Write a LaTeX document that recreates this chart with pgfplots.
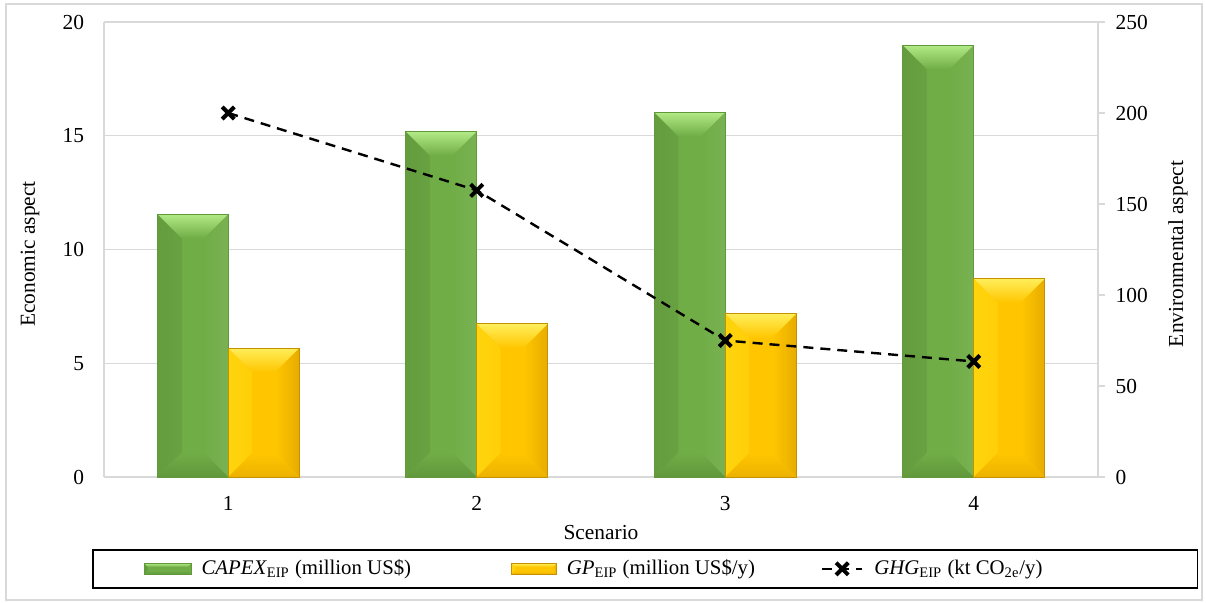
\documentclass[border=0pt]{standalone}
\usepackage{pgfplots}
\pgfplotsset{compat=1.18}
\usepackage{fontspec}
\setmainfont{Liberation Serif}

\definecolor{gridgray}{RGB}{217,217,217}
\definecolor{gBody}{RGB}{112,173,71}
\definecolor{gDark}{RGB}{90,142,55}
\definecolor{gLight}{RGB}{178,234,134}
\definecolor{gEdge}{RGB}{98,152,60}
\definecolor{yBody}{RGB}{255,198,0}
\definecolor{yLeft}{RGB}{255,212,12}
\definecolor{yLight}{RGB}{255,238,90}
\definecolor{yDark}{RGB}{232,172,0}
\definecolor{yEdge}{RGB}{196,146,0}

% bevelled face of a bar: size, body, top, left, right, bottom
\tikzset{
  facet/.style={draw=none, path picture={}},
  bevel/.style n args={6}{
    path picture={
      \path[facet, left color=#4, right color=#2]
        (path picture bounding box.north west)
        -- ([xshift=#1,yshift=-#1]path picture bounding box.north west)
        -- ([xshift=#1,yshift=#1]path picture bounding box.south west)
        -- (path picture bounding box.south west) -- cycle;
      \path[facet, left color=#2, right color=#5]
        (path picture bounding box.north east)
        -- ([xshift=-#1,yshift=-#1]path picture bounding box.north east)
        -- ([xshift=-#1,yshift=#1]path picture bounding box.south east)
        -- (path picture bounding box.south east) -- cycle;
      \path[facet, top color=#2, bottom color=#6]
        (path picture bounding box.south west)
        -- ([xshift=#1,yshift=#1]path picture bounding box.south west)
        -- ([xshift=-#1,yshift=#1]path picture bounding box.south east)
        -- (path picture bounding box.south east) -- cycle;
      \path[facet, top color=#3, bottom color=#2]
        (path picture bounding box.north west)
        -- (path picture bounding box.north east)
        -- ([xshift=-#1,yshift=-#1]path picture bounding box.north east)
        -- ([xshift=#1,yshift=-#1]path picture bounding box.north west) -- cycle;
    }
  },
  capexbar/.style={draw=gEdge, line width=0.4pt, fill=gBody},
  gpbar/.style={draw=yEdge, line width=0.4pt, fill=yBody},
}
% bar series: one plot per bar so every bar gets its own bevel
\pgfplotsset{
  capex/.style={ybar, bar width=0.2855, bar shift=-0.14275, capexbar,
    bevel={12pt}{gBody}{gLight}{gDark!55!gBody}{gBody!94!white}{gDark!70!gBody}},
  gp/.style={ybar, bar width=0.2855, bar shift=0.14275, gpbar,
    bevel={12pt}{yBody}{yLight}{yLeft}{yDark}{yDark!80!yBody}},
  capexlegend/.style={legend image code/.code={%
    \draw[##1] (0pt,-2.75pt) rectangle (23.5pt,2.75pt);}},
  gplegend/.style={legend image code/.code={%
    \draw[##1] (0pt,-2.75pt) rectangle (22.5pt,2.75pt);}},
  ghglegend/.style={legend image code/.code={%
    \draw[##1, mark repeat=2, mark phase=2]
      plot coordinates {(0pt,0pt) (10pt,0pt) (20pt,0pt)};}},
}

\begin{document}
\begin{tikzpicture}[font=\fontsize{10.7}{12.8}\selectfont]
\useasboundingbox (-52pt,-62.5pt) rectangle (551pt,238.5pt);

% economic aspect: bars on the left axis
\begin{axis}[
  at={(0,0)}, anchor=south west,
  scale only axis, width=497pt, height=227.5pt,
  xmin=0.5, xmax=4.5, ymin=0, ymax=20,
  xtick={1,2,3,4}, ytick={0,5,10,15,20},
  axis x line*=bottom, axis y line*=left,
  axis line style={-, gridgray, line width=0.7pt},
  major tick length=0pt,
  ymajorgrids, grid style={gridgray, line width=0.7pt},
  /pgf/number format/assume math mode=true,
  xticklabel style={yshift=-6pt},
  yticklabel style={xshift=-6.4pt},
  xlabel={Scenario}, ylabel={Economic aspect},
  xlabel style={at={(axis description cs:0.5,-0.123)}, anchor=center},
  ylabel style={at={(axis description cs:-0.0744,0.49)}, anchor=center},
]
% CAPEX (million US$)
\addplot[capex] coordinates {(1,11.56)};
\addplot[capex] coordinates {(2,15.19)};
\addplot[capex] coordinates {(3,16.04)};
\addplot[capex] coordinates {(4,18.98)};
% GP (million US$/y)
\addplot[gp] coordinates {(1,5.67)};
\addplot[gp] coordinates {(2,6.73)};
\addplot[gp] coordinates {(3,7.18)};
\addplot[gp] coordinates {(4,8.72)};
\end{axis}

% environmental aspect: GHG line on the right axis, with the legend
\begin{axis}[
  at={(0,0)}, anchor=south west,
  scale only axis, width=497pt, height=227.5pt,
  xmin=0.5, xmax=4.5, ymin=0, ymax=250,
  ytick={0,50,100,150,200,250},
  axis x line=none, axis y line*=right,
  axis line style={-, gridgray, line width=0.7pt},
  tick align=outside, major tick length=3.5pt,
  tick style={gridgray, line width=0.7pt},
  /pgf/number format/assume math mode=true,
  yticklabel style={xshift=1.8pt},
  ylabel={Environmental aspect},
  ylabel style={at={(axis description cs:1.0805,0.49)}, anchor=center},
  legend columns=3,
  legend style={
    at={(-0.01207,-0.15824)}, anchor=north west,
    draw=black, line width=0.8pt, fill=white,
    inner xsep=25.5pt, inner ysep=5pt,
    nodes={inner sep=0pt, font=\fontsize{10.4}{12}\selectfont},
    column sep=5pt,
    /tikz/column 2/.style={column sep=50pt},
    /tikz/column 4/.style={column sep=33pt},
    /tikz/column 5/.style={column sep=5.5pt},
  },
]
\addlegendimage{capexbar, line width=0.4pt, capexlegend,
  bevel={1.8pt}{gBody}{gLight}{gDark!55!gBody}{gBody}{gDark!70!gBody}}
\addlegendentry{\textit{CAPEX}\textsubscript{EIP} (million US\$)}
\addlegendimage{gpbar, line width=0.4pt, gplegend,
  bevel={1.8pt}{yBody}{yLight}{yLeft}{yDark}{yDark!80!yBody}}
\addlegendentry{\textit{GP}\textsubscript{EIP} (million US\$/y)}
\addplot[black, line width=1.2pt, dash pattern=on 5pt off 3.5pt,
  mark=x, mark size=4.3pt, mark options={solid, line width=2pt}, ghglegend]
  coordinates {(1,200) (2,157.5) (3,75) (4,63.5)};
\addlegendentry{\textit{GHG}\textsubscript{EIP} (kt CO\textsubscript{2e}/y)\hspace*{52pt}}
\end{axis}

% chart frame
\draw[gridgray, line width=0.8pt] (-49pt,-61.5pt) rectangle (549pt,236.5pt);
\end{tikzpicture}
\end{document}
